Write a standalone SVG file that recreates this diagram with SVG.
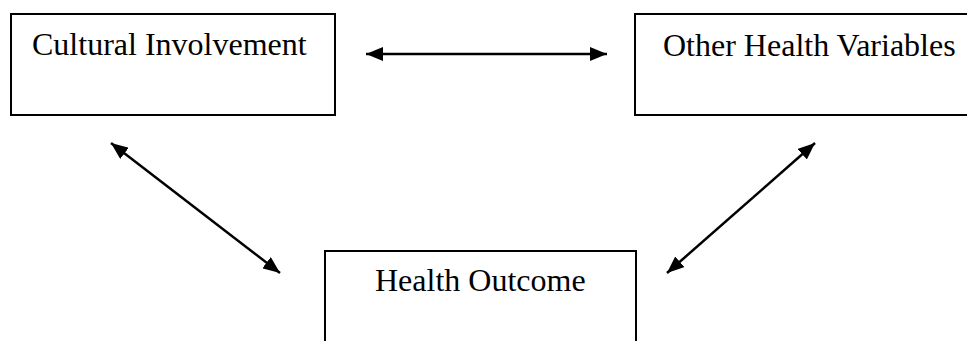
<svg xmlns="http://www.w3.org/2000/svg" width="967" height="341" viewBox="0 0 967 341">
<defs>
<style>
.box{fill:#fff;stroke:#000;stroke-width:2}
.lbl{font-family:"Liberation Serif","Times New Roman",serif;font-size:32px;fill:#000}
.conn{stroke:#000;stroke-width:2.5;fill:none;marker-start:url(#ah);marker-end:url(#ah)}
</style>
<marker id="ah" markerUnits="userSpaceOnUse" markerWidth="18" markerHeight="14" viewBox="0 0 18 14" refX="17" refY="7" orient="auto-start-reverse">
<path d="M0,0 L17,7 L0,14 Z" fill="#000"/>
</marker>
</defs>
<rect width="967" height="341" fill="#fff"/>
<g id="node-cultural">
<rect class="box" x="11" y="14" width="324" height="101"/>
<text class="lbl" x="32" y="55">Cultural Involvement</text>
</g>
<g id="node-other">
<rect class="box" x="635" y="14" width="340" height="101"/>
<text class="lbl" x="663" y="56">Other Health Variables</text>
</g>
<g id="node-outcome">
<rect class="box" x="325" y="251" width="311" height="100"/>
<text class="lbl" x="375" y="291">Health Outcome</text>
</g>
<g id="connectors">
<line class="conn" x1="366" y1="54" x2="607" y2="54"/>
<line class="conn" x1="111" y1="143" x2="280" y2="273"/>
<line class="conn" x1="815" y1="143" x2="667" y2="273"/>
</g>
</svg>
